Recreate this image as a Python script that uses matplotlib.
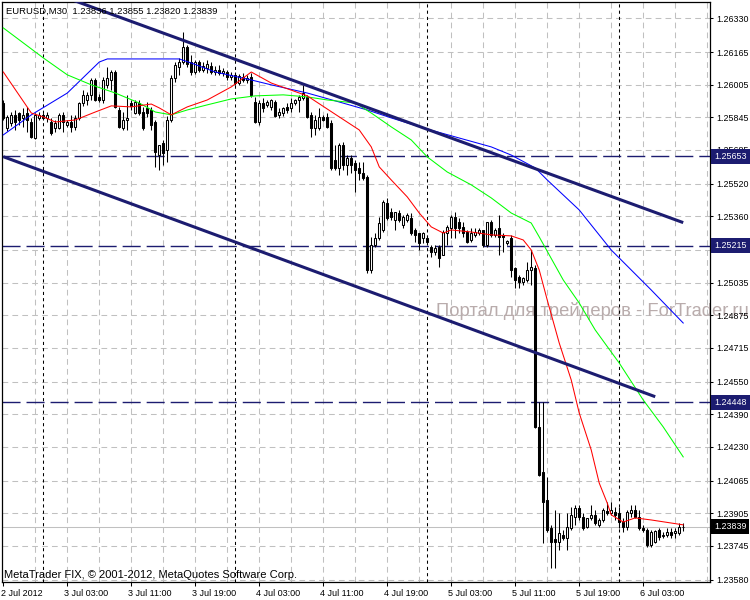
import matplotlib
matplotlib.use('Agg')
import matplotlib.pyplot as plt
from matplotlib.transforms import ScaledTranslation, blended_transform_factory
import numpy as np

plt.rcParams['font.family'] = ['Liberation Sans', 'DejaVu Sans']

# ---- data (prices in points, 1 point = 0.00001) ----
opens = [125915,125793,125817,125857,125866,125842,125866,125822,125744,125842,
         125857,125842,125822,125793,125793,125857,125808,125822,125798,125842,
         125915,125930,125955,126028,125945,125930,126004,126028,126067,125881,
         125793,125832,125915,125866,125915,125871,125891,125881,125822,125660,
         125719,125685,125832,126038,126092,126116,126190,126116,126067,126116,
         126077,126087,126097,126067,126077,126062,126067,126043,126053,126013,
         126043,126028,126043,125920,125822,125915,125906,125896,125920,125857,
         125866,125896,125891,125915,125930,125940,125945,125857,125793,125793,
         125847,125847,125817,125636,125597,125710,125612,125646,125621,125597,
         125572,125553,125097,125220,125254,125293,125425,125381,125342,125376,
         125318,125342,125352,125293,125278,125254,125254,125210,125185,125210,
         125171,125278,125303,125357,125332,125308,125283,125244,125269,125278,
         125293,125220,125332,125269,125303,125269,125229,125254,125107,125063,
         125038,125048,125097,125107,124328,124107,123970,123833,123779,123764,
         123799,123784,123833,123887,123931,123887,123838,123882,123897,123848,
         123872,123916,123906,123911,123906,123862,123838,123906,123921,123887,
         123833,123823,123750,123764,123823,123794,123799,123813,123808,123808,
         123836]
highs = [125930,125857,125871,125881,125871,125891,125896,125842,125866,125871,
         125866,125871,125842,125832,125866,125871,125832,125857,125857,125920,
         125979,125969,126038,126038,125959,126043,126092,126077,126077,125896,
         125871,125955,125930,125930,125930,125896,125920,125896,125832,125710,
         125734,125852,126053,126116,126136,126263,126200,126151,126126,126126,
         126116,126126,126116,126097,126102,126087,126077,126067,126067,126057,
         126062,126053,126062,125945,125930,125940,125930,125935,125930,125891,
         125896,125915,125940,125935,125955,126004,125955,125871,125857,125891,
         125857,125866,125832,125710,125719,125724,125660,125660,125636,125626,
         125626,125563,125259,125278,125357,125440,125450,125401,125381,125391,
         125367,125376,125376,125303,125278,125283,125269,125220,125220,125220,
         125293,125318,125367,125381,125352,125332,125293,125303,125303,125303,
         125293,125332,125342,125303,125367,125278,125244,125269,125112,125073,
         125063,125136,125195,125122,124450,124450,124083,123848,123921,123906,
         123823,123906,123936,123946,123946,123906,123882,123946,123921,123882,
         123931,123960,123960,123936,123936,123882,123921,123946,123946,123921,
         123848,123833,123823,123823,123833,123813,123833,123833,123833,123857,
         123855]
lows = [125832,125778,125803,125783,125808,125798,125773,125744,125739,125832,
        125832,125822,125759,125773,125788,125773,125798,125773,125783,125832,
        125901,125906,125930,125925,125920,125915,125989,125979,125891,125793,
        125783,125783,125881,125861,125857,125783,125847,125783,125602,125587,
        125612,125626,125822,126018,126053,126106,126092,126053,126057,126067,
        126067,126062,126057,126053,126053,126048,126028,126028,126004,126004,
        126018,126013,125945,125817,125808,125871,125896,125881,125847,125842,
        125852,125866,125871,125906,125871,125930,125842,125749,125759,125783,
        125827,125793,125587,125587,125563,125587,125563,125572,125479,125538,
        125538,125082,125082,125210,125244,125283,125342,125342,125293,125332,
        125303,125332,125269,125234,125195,125229,125220,125161,125171,125112,
        125171,125220,125254,125254,125278,125259,125229,125234,125259,125269,
        125210,125210,125259,125259,125171,125185,125220,125063,125009,125009,
        125024,125038,125024,124323,124088,123759,123813,123637,123637,123725,
        123774,123725,123823,123848,123872,123823,123833,123872,123848,123838,
        123862,123897,123897,123872,123833,123813,123823,123887,123882,123823,
        123813,123740,123740,123759,123774,123784,123789,123784,123784,123799,
        123820]
closes = [125842,125847,125857,125822,125832,125857,125832,125749,125857,125857,
          125842,125857,125768,125817,125857,125822,125822,125798,125842,125915,
          125955,125955,126028,125930,125930,126028,126038,126067,125896,125798,
          125832,125842,125901,125920,125866,125793,125866,125808,125675,125710,
          125670,125832,126038,126102,126116,126190,126106,126067,126116,126077,
          126097,126106,126067,126077,126062,126072,126043,126053,126013,126048,
          126028,126038,125955,125822,125915,125891,125920,125930,125852,125871,
          125891,125881,125915,125930,125945,125964,125847,125793,125832,125847,
          125832,125798,125597,125597,125710,125612,125646,125612,125587,125572,
          125548,125097,125220,125254,125327,125430,125352,125357,125381,125342,
          125357,125367,125278,125269,125229,125278,125234,125185,125205,125156,
          125283,125308,125357,125303,125303,125278,125234,125278,125283,125293,
          125220,125332,125269,125293,125259,125259,125239,125097,125048,125038,
          125058,125097,125112,124328,124093,123960,123823,123764,123764,123808,
          123784,123838,123897,123931,123887,123833,123882,123897,123857,123872,
          123921,123906,123921,123897,123862,123838,123911,123921,123887,123833,
          123823,123750,123813,123818,123789,123799,123813,123799,123818,123838,
          123839]

red_bars = [0,7,10,13,18,23,27,32,37,39,42,46,51,57,62,67,76,84,89,92,94,97,101,104,107,
            110,112,117,122,127,130,132,134,136,139,142,144,147,149,151,152,155,158,162,167,170]
red_vals = [126067,125866,125847,125822,125832,125871,125901,125896,125910,125891,125857,
            125896,125930,125994,126067,126013,125950,125847,125783,125700,125602,125538,
            125455,125376,125308,125278,125293,125283,125269,125264,125244,125195,125097,
            124950,124739,124558,124396,124215,124053,123955,123897,123862,123882,123872,
            123857,123848]
green_bars = [0,10,16,22,28,34,38,42,46,51,57,63,70,76,81,88,92,97,102,106,111,117,122,127,
              132,134,140,144,148,154,160,165,170]
green_vals = [126283,126136,126053,126004,125964,125915,125871,125857,125881,125906,125935,
              125950,125955,125945,125930,125915,125866,125798,125734,125651,125577,125514,
              125450,125376,125327,125259,125048,124935,124803,124641,124460,124328,124181]
blue_bars = [0,7,16,24,26,44,47,53,62,67,76,84,91,97,105,113,122,127,133,136,144,152,162,170]
blue_vals = [125759,125857,125964,126116,126131,126131,126111,126067,126028,126004,125964,
             125920,125881,125842,125793,125749,125700,125660,125597,125538,125391,125195,
             124999,124837]

upper_line_bars = [10, 170]
upper_line_vals = [126472, 125329]
lower_line_bars = [0, 163]
lower_line_vals = [125652, 124476]
hlines = [1.25653, 1.25215, 1.24448]
bid = 1.23839
separator_bars = [10, 58, 106, 154]

xtick_bars = [0, 16, 32, 48, 64, 80, 96, 112, 128, 144, 160]
xtick_labels = ['2 Jul 2012', '3 Jul 03:00', '3 Jul 11:00', '3 Jul 19:00', '4 Jul 03:00',
                '4 Jul 11:00', '4 Jul 19:00', '5 Jul 03:00', '5 Jul 11:00', '5 Jul 19:00',
                '6 Jul 03:00']
ytick_vals = [1.26330, 1.26165, 1.26005, 1.25845, 1.25685, 1.25520, 1.25360, 1.25195,
              1.25035, 1.24875, 1.24715, 1.24550, 1.24390, 1.24230, 1.24065, 1.23905,
              1.23745, 1.23580]
hidden_ytick_labels = [1.25195]

title = 'EURUSD,M30  1.23836 1.23855 1.23820 1.23839'
footer = 'MetaTrader FIX, © 2001-2012, MetaQuotes Software Corp.'
watermark = 'Портал для трейдеров - ForTrader.ru'

P = 1e5
o = np.array(opens) / P
h = np.array(highs) / P
l = np.array(lows) / P
c = np.array(closes) / P
idx = np.arange(len(o))

NAVY = '#1c1c70'
GRID = '#c0c0c0'

fig = plt.figure(figsize=(7.5, 6), dpi=100, facecolor='white')
ax = fig.add_axes([2/750, 18/600, 708/750, 580/600])
ax.set_xlim(-0.33, 176.7)
ax.set_ylim(1.23568, 1.26410)

# grid
for b in range(8, 177, 8):
    ax.axvline(b, color=GRID, lw=0.75, linestyle=(0, (5.5, 4)), zorder=0.5)
for v in ytick_vals:
    ax.axhline(v, color=GRID, lw=0.75, linestyle=(0, (5.5, 4)), zorder=0.5)

# watermark
ax.text(749/750, 1 - 311/600, watermark, transform=fig.transFigure, ha='right', va='center',
        fontsize=13.2, color='#b9acac', zorder=0.8, clip_on=False)

# bid line
ax.axhline(bid, color=GRID, lw=0.75, zorder=1)

# period separators
for b in separator_bars:
    ax.axvline(b, color='black', lw=0.75, linestyle=(0, (3, 3)), zorder=1.2)

# horizontal levels
for v in hlines:
    ax.axhline(v, color=NAVY, lw=1.0, linestyle=(0, (13, 4.3)), zorder=1.3)

# candles
ax.vlines(idx, l, h, color='black', lw=0.75, zorder=3)
up = c >= o
bottom = np.minimum(o, c)
height = np.maximum(np.abs(c - o), 0.000012)
ax.bar(idx[up], height[up], bottom=bottom[up], width=0.5, facecolor='white',
       edgecolor='black', lw=0.75, zorder=4)
ax.bar(idx[~up], height[~up], bottom=bottom[~up], width=0.5, facecolor='black',
       edgecolor='black', lw=0.75, zorder=4)

# moving averages
ax.plot(blue_bars, np.array(blue_vals) / P, color='#0000ff', lw=0.75, zorder=5)
ax.plot(green_bars, np.array(green_vals) / P, color='#00ff00', lw=0.75, zorder=5)
ax.plot(red_bars, np.array(red_vals) / P, color='#ff0000', lw=0.75, zorder=5)

# trend channel
ax.plot(upper_line_bars, np.array(upper_line_vals) / P, color=NAVY, lw=2.2,
        solid_capstyle='butt', zorder=6)
ax.plot(lower_line_bars, np.array(lower_line_vals) / P, color=NAVY, lw=2.2,
        solid_capstyle='butt', zorder=6)

# axes styling
for s in ax.spines.values():
    s.set_color('black')
    s.set_linewidth(0.9)
ax.yaxis.tick_right()
ax.set_yticks(ytick_vals)
ax.set_yticklabels(['' if v in hidden_ytick_labels else f'{v:.5f}' for v in ytick_vals])
ax.tick_params(axis='y', length=2.5, width=0.75, pad=2, labelsize=6.4)
ax.set_xticks(xtick_bars)
ax.set_xticklabels(xtick_labels)
ax.tick_params(axis='x', length=3, width=0.75, pad=2, labelsize=6.5)
for i, lbl in enumerate(ax.get_xticklabels()):
    lbl.set_horizontalalignment('left')
    off = -2/100 if i == 0 else -3/100
    lbl.set_transform(lbl.get_transform() + ScaledTranslation(off, 0, fig.dpi_scale_trans))

# price boxes
trans = blended_transform_factory(ax.transAxes, ax.transData) + \
    ScaledTranslation(4/100, 0, fig.dpi_scale_trans)
for v in hlines:
    ax.text(1.0, v, f'{v:.5f}', transform=trans, ha='left', va='center', fontsize=6.4,
            color='white', zorder=10, clip_on=False,
            bbox=dict(boxstyle='square,pad=0.35', fc=NAVY, ec='none'))
ax.text(1.0, bid, f'{bid:.5f}', transform=trans, ha='left', va='center', fontsize=6.4,
        color='white', zorder=10, clip_on=False,
        bbox=dict(boxstyle='square,pad=0.35', fc='black', ec='none'))

# texts
fig.text(6/750, 1 - 11/600, title, ha='left', va='center', fontsize=6.8, color='black')
fig.text(4/750, 1 - 574.5/600, footer, ha='left', va='center', fontsize=8.0, color='black')

fig.savefig('out.png', dpi=100, facecolor='white')
